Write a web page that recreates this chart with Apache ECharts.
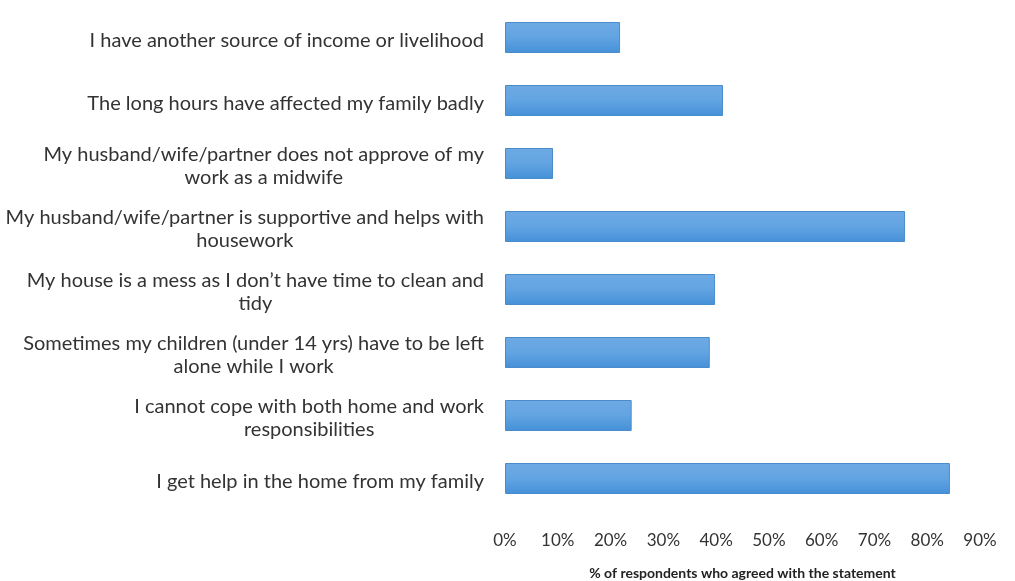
<!DOCTYPE html>
<html>
<head>
<meta charset="utf-8">
<script src="https://cdn.jsdelivr.net/npm/echarts@6/dist/echarts.min.js"></script>
<style>html,body{margin:0;padding:0;background:#fff}#c{width:1015px;height:581px}</style>
</head>
<body>
<div id="c"></div>
<script>
const categories = [
  "I have another source of income or livelihood",
  "The long hours have affected my family badly",
  "My husband/wife/partner does not approve of my\nwork as a midwife",
  "My husband/wife/partner is supportive and helps with\nhousework",
  "My house is a mess as I don\u2019t have time to clean and\ntidy",
  "Sometimes my children (under 14 yrs) have to be left\nalone while I work",
  "I cannot cope with both home and work\nresponsibilities",
  "I get help in the home from my family"
];
const values = [21.8, 41.3, 9.1, 75.8, 39.8, 38.8, 24.0, 84.3];
const xTicks = [0, 10, 20, 30, 40, 50, 60, 70, 80, 90];
const xAxisName = "% of respondents who agreed with the statement";

const FONT = "Lato";
const chart = echarts.init(document.getElementById('c'));
chart.setOption({
  animation: false,
  backgroundColor: '#ffffff',
  grid: { left: 505, right: 35, top: 6, bottom: 71, containLabel: false, outerBoundsMode: 'none' },
  xAxis: {
    type: 'value', min: xTicks[0], max: xTicks[xTicks.length - 1], interval: 10,
    axisLine: { show: false }, axisTick: { show: false }, splitLine: { show: false },
    axisLabel: { formatter: v => v + '%', color: '#333', fontFamily: FONT, fontSize: 17, margin: 22 },
    name: xAxisName, nameLocation: 'middle', nameGap: 56,
    nameTextStyle: { fontFamily: FONT, fontWeight: 'bold', fontSize: 14, color: '#222' }
  },
  yAxis: {
    type: 'category', data: categories, inverse: true,
    axisLine: { show: false }, axisTick: { show: false },
    axisLabel: {
      margin: 21, align: 'right', color: '#333', fontFamily: FONT, fontSize: 20, lineHeight: 23,
      padding: [6, 0, 0, 0],
      formatter: v => v.split('\n').map(s => '{c|' + s + '}').join('\n'),
      rich: { c: { align: 'center', fontFamily: FONT, fontSize: 20, lineHeight: 23, color: '#333' } }
    }
  },
  series: [{
    type: 'bar', data: values, barWidth: 31,
    itemStyle: {
      color: new echarts.graphic.LinearGradient(0, 0, 0, 1, [
        { offset: 0, color: '#6eaae4' },
        { offset: 0.5, color: '#62a4e2' },
        { offset: 1, color: '#4590d8' }
      ]),
      borderColor: '#4a8ccb', borderWidth: 1
    }
  }]
});
</script>
</body>
</html>
